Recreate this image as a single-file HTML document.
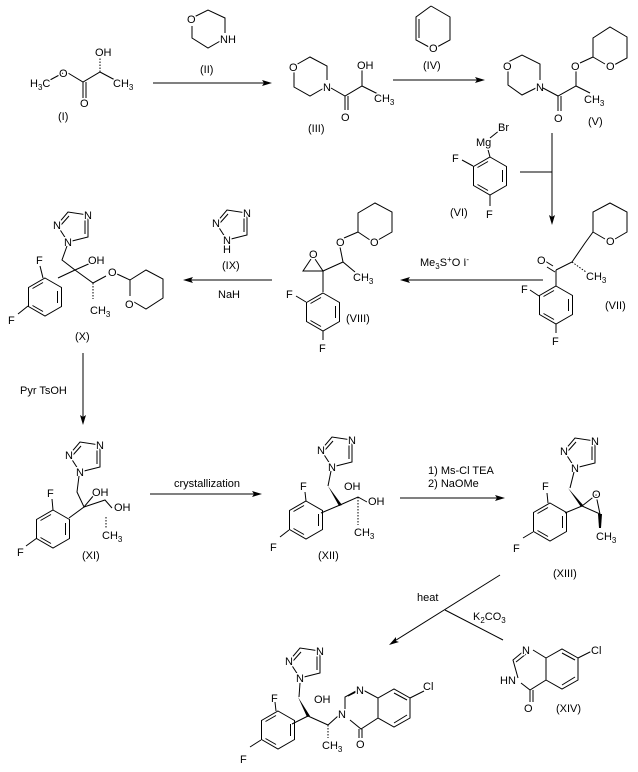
<!DOCTYPE html>
<html><head><meta charset="utf-8"><style>
html,body{margin:0;padding:0;background:#fff;}
svg{display:block}
text{font-family:"Liberation Sans",sans-serif;font-size:11px;fill:#000;paint-order:stroke;stroke:#fff;stroke-width:3px;stroke-linejoin:round}
.s{font-size:8px}
line,polyline,polygon,path{stroke:#000;stroke-width:1;fill:none}
.ah{fill:#000;stroke:none}
</style></head><body>
<svg width="638" height="772" viewBox="0 0 638 772" xmlns="http://www.w3.org/2000/svg">
<defs>
<g id="benz"><polygon points="0,-19 16.5,-9.5 16.5,9.5 0,19 -16.5,9.5 -16.5,-9.5"/><line x1="12.5" y1="-6" x2="12.5" y2="6"/><line x1="-2" y1="14.5" x2="-12.5" y2="8.5"/><line x1="-2" y1="-14.5" x2="-12.5" y2="-8.5"/></g>
<g id="tri"><polygon points="0,0 -11,-17 0,-30 20,-27 20,-5"/><line x1="-7" y1="-17" x2="1" y2="-26"/><line x1="17" y1="-24" x2="17" y2="-8"/>
<text x="-4" y="4">N</text><text x="-15" y="-13">N</text><text x="16" y="-23">N</text></g>
</defs>

<!-- (I) -->
<polyline points="50,80 63,73"/><polyline points="68,73 83,82 100,72 115,80"/>
<line x1="83" y1="82" x2="83" y2="98"/><line x1="86" y1="82" x2="86" y2="98"/>
<line x1="100" y1="72" x2="100" y2="58" stroke-dasharray="1.5,1.5"/>
<text x="30" y="87">H<tspan class="s" dy="3">3</tspan><tspan dy="-3">C</tspan></text>
<text x="59" y="77">O</text><text x="80" y="107">O</text><text x="95" y="56">OH</text>
<text x="113" y="87">CH<tspan class="s" dy="3">3</tspan></text>
<text x="58" y="120">(I)</text>
<line x1="153" y1="83" x2="268" y2="83"/><polygon class="ah" points="272,83 262,80 264,83 262,86"/>
<!-- (II) -->
<polyline points="192,18 208,10 225,18 225,33"/><polyline points="192,26 192,38 208,48 222,40"/>
<text x="187" y="23">O</text><text x="220" y="43">NH</text><text x="200" y="73">(II)</text>

<!-- (III) -->
<polyline points="294,66 310,57 327,66 327,80"/><polyline points="294,72 294,87 310,96 324,88"/>
<text x="289" y="71">O</text><text x="323" y="91">N</text>
<polyline points="331,88 345,96 362,86 378,94"/>
<line x1="345" y1="96" x2="345" y2="110"/><line x1="348" y1="96" x2="348" y2="110"/>
<line x1="362" y1="86" x2="362" y2="70"/>
<text x="341" y="121">O</text><text x="357" y="69">OH</text><text x="374" y="102">CH<tspan class="s" dy="3">3</tspan></text>
<text x="308" y="132">(III)</text>
<line x1="393" y1="80" x2="481" y2="80"/><polygon class="ah" points="485,80 475,77 477,80 475,83"/>
<!-- (IV) -->
<polyline points="431,6 450,17 450,40 437,47"/><polyline points="429,47 416,40 416,17 431,6"/><line x1="419" y1="19" x2="419" y2="38"/>
<text x="429" y="52">O</text><text x="423" y="69">(IV)</text>

<!-- (V) -->
<polyline points="508,62 522,55 540,64 540,80"/><polyline points="508,70 508,85 522,95 536,88"/>
<text x="503" y="70">O</text><text x="536" y="91">N</text>
<polyline points="543,88 558,96 576,86 590,93"/>
<line x1="558" y1="96" x2="558" y2="111"/><line x1="561" y1="96" x2="561" y2="111"/>
<line x1="576" y1="86" x2="576" y2="71"/><line x1="580" y1="63" x2="593" y2="57"/>
<polyline points="593,57 593,38 610,27 627,37 627,58 614,65"/><line x1="593" y1="57" x2="605" y2="64"/>
<text x="571" y="70">O</text><text x="606" y="70">O</text><text x="554" y="122">O</text>
<text x="584" y="103">CH<tspan class="s" dy="3">3</tspan></text><text x="588" y="125">(V)</text>
<line x1="552" y1="133" x2="552" y2="220"/><polygon class="ah" points="552,225 549,215 552,217 555,215"/>
<line x1="520" y1="172" x2="552" y2="172"/>
<!-- (VI) -->
<use href="#benz" transform="translate(490,176)"/>
<line x1="490" y1="157" x2="487" y2="146"/><line x1="490" y1="138" x2="500" y2="130"/>
<text x="476" y="146">Mg</text><text x="498" y="131">Br</text>
<line x1="473" y1="166" x2="462" y2="160"/><text x="452" y="162">F</text>
<line x1="490" y1="195" x2="490" y2="206"/><text x="486" y="218">F</text>
<text x="450" y="216">(VI)</text>

<!-- (VII) -->
<polyline points="556,270 572,262 585,243 593,232"/><line x1="553" y1="266" x2="545" y2="261"/><line x1="555" y1="272" x2="547" y2="267"/>
<line x1="572" y1="262" x2="586" y2="272" stroke-dasharray="1.5,1.5"/>
<polyline points="593,232 593,212 610,203 627,212 627,232 615,239"/><line x1="593" y1="232" x2="605" y2="239"/>
<text x="606" y="245">O</text><text x="537" y="264">O</text>
<text x="586" y="280">CH<tspan class="s" dy="3">3</tspan></text>
<line x1="556" y1="270" x2="556" y2="286"/>
<use href="#benz" transform="translate(556,305)"/>
<line x1="539" y1="296" x2="530" y2="290"/><text x="521" y="293">F</text>
<line x1="556" y1="324" x2="556" y2="333"/><text x="552" y="345">F</text>
<text x="605" y="309">(VII)</text>
<line x1="543" y1="280" x2="405" y2="280"/><polygon class="ah" points="400,280 410,277 408,280 410,283"/>
<text x="420" y="266">Me<tspan class="s" dy="3">3</tspan><tspan dy="-3">S</tspan><tspan class="s" dy="-4">+</tspan><tspan dy="4">O I</tspan><tspan class="s" dy="-4">-</tspan></text>

<!-- (VIII) -->
<polygon points="303,271 323,271 313,256"/><text x="309" y="258">O</text>
<polyline points="323,271 343,262 355,272"/><line x1="343" y1="262" x2="340" y2="247"/>
<line x1="344" y1="238" x2="358" y2="232"/>
<polyline points="358,232 358,213 375,203 392,212 392,232 378,240"/><line x1="358" y1="232" x2="370" y2="240"/>
<text x="336" y="246">O</text><text x="370" y="246">O</text><text x="353" y="281">CH<tspan class="s" dy="3">3</tspan></text>
<line x1="323" y1="271" x2="323" y2="292"/>
<use href="#benz" transform="translate(323,312)"/>
<line x1="306" y1="302" x2="296" y2="296"/><text x="286" y="298">F</text>
<line x1="323" y1="331" x2="323" y2="340"/><text x="319" y="352">F</text>
<text x="346" y="322">(VIII)</text>
<line x1="272" y1="280" x2="187" y2="280"/><polygon class="ah" points="183,280 193,277 191,280 193,283"/>
<!-- (IX) -->
<use href="#tri" transform="translate(227,240)"/>
<text x="223" y="253">H</text>
<text x="222" y="269">(IX)</text><text x="218" y="298">NaH</text>

<!-- (X) -->
<use href="#tri" transform="translate(68,242)"/>
<polyline points="67,246 62,260 75,270 93,262"/>
<polyline points="75,270 93,283 106,276"/>
<line x1="93" y1="283" x2="93" y2="299" stroke-dasharray="1.5,1.5"/>
<line x1="117" y1="274" x2="130" y2="280"/>
<polyline points="130,280 146,270 163,279 163,298 146,309 134,302"/><line x1="130" y1="280" x2="130" y2="296"/>
<text x="88" y="264">OH</text><text x="108" y="276">O</text><text x="125" y="308">O</text>
<text x="90" y="314">CH<tspan class="s" dy="3">3</tspan></text>
<line x1="75" y1="270" x2="58" y2="278"/>
<use href="#benz" transform="translate(45,297)" />
<line x1="43" y1="278" x2="40" y2="266"/><text x="36" y="264">F</text>
<line x1="28" y1="306" x2="18" y2="314"/><text x="8" y="324">F</text>
<text x="75" y="340">(X)</text>
<line x1="83" y1="353" x2="83" y2="420"/><polygon class="ah" points="83,425 80,415 83,417 86,415"/>
<text x="20" y="394">Pyr TsOH</text>

<!-- (XI) -->
<use href="#tri" transform="translate(80,472)"/>
<polyline points="79,476 77,492 84,507 94,495"/>
<polyline points="84,507 105,500 112,508"/>
<line x1="106" y1="517" x2="106" y2="528" stroke-dasharray="1.5,1.5"/>
<text x="92" y="496">OH</text><text x="114" y="511">OH</text>
<text x="102" y="539">CH<tspan class="s" dy="3">3</tspan></text>
<line x1="84" y1="507" x2="69" y2="518"/>
<use href="#benz" transform="translate(53,529)"/>
<line x1="53" y1="510" x2="52" y2="499"/><text x="47" y="497">F</text>
<line x1="37" y1="538" x2="26" y2="546"/><text x="17" y="556">F</text>
<text x="82" y="559">(XI)</text>
<line x1="150" y1="494" x2="258" y2="494"/><polygon class="ah" points="262,494 252,491 254,494 252,497"/>
<text x="174" y="487">crystallization</text>

<!-- (XII) -->
<use href="#tri" transform="translate(332,467)"/>
<line x1="331" y1="471" x2="328" y2="486"/><polygon class="ah" points="328,486 342,505 339,506"/>
<polyline points="340,505 358,497 367,502"/>
<line x1="358" y1="497" x2="358" y2="525" stroke-dasharray="1.5,1.5"/>
<text x="344" y="490">OH</text><text x="368" y="505">OH</text>
<text x="354" y="536">CH<tspan class="s" dy="3">3</tspan></text>
<line x1="340" y1="505" x2="321" y2="513"/>
<use href="#benz" transform="translate(306,520)"/>
<line x1="306" y1="501" x2="305" y2="492"/><text x="300" y="490">F</text>
<line x1="289" y1="530" x2="280" y2="537"/><text x="270" y="551">F</text>
<text x="318" y="559">(XII)</text>
<line x1="400" y1="498" x2="501" y2="498"/><polygon class="ah" points="505,498 495,495 497,498 495,501"/>
<text x="428" y="474">1) Ms-Cl  TEA</text><text x="428" y="487">2) NaOMe</text>

<!-- (XIII) -->
<use href="#tri" transform="translate(575,468)"/>
<line x1="574" y1="472" x2="570" y2="488"/><polygon class="ah" points="568,488 583,505 581,507"/>
<polygon points="582,506 596,495 600,514"/>
<text x="592" y="498">O</text>
<polygon class="ah" points="598,514 602,514 601,528 599,528"/>
<text x="596" y="540">CH<tspan class="s" dy="3">3</tspan></text>
<line x1="582" y1="506" x2="565" y2="513"/>
<use href="#benz" transform="translate(550,522)"/>
<line x1="548" y1="503" x2="547" y2="493"/><text x="542" y="490">F</text>
<line x1="533" y1="532" x2="523" y2="538"/><text x="513" y="552">F</text>
<text x="553" y="577">(XIII)</text>
<line x1="500" y1="575" x2="393" y2="642"/><polygon class="ah" points="389,645 396,637 396,641 399,642"/>
<line x1="445" y1="610" x2="503" y2="640"/>
<text x="417" y="601">heat</text>
<text x="473" y="620">K<tspan class="s" dy="3">2</tspan><tspan dy="-3">CO</tspan><tspan class="s" dy="3">3</tspan></text>

<!-- (XIV) -->
<polyline points="518,678 513,660 525,650"/><line x1="516" y1="662" x2="526" y2="654"/>
<polyline points="533,650 546,658 546,680 530,690 521,683"/>
<line x1="530" y1="690" x2="530" y2="702"/><line x1="533" y1="690" x2="533" y2="702"/>
<polygon points="546,658 562,649 578,658 578,680 562,689 546,680"/>
<line x1="562" y1="653" x2="575" y2="660"/><line x1="575" y1="677" x2="562" y2="685"/>
<line x1="578" y1="658" x2="592" y2="651"/>
<text x="522" y="654">N</text><text x="500" y="684">HN</text><text x="524" y="712">O</text>
<text x="591" y="654">Cl</text><text x="556" y="712">(XIV)</text>

<!-- final product -->
<use href="#tri" transform="translate(300,678)"/>
<line x1="300" y1="683" x2="299" y2="697"/><polygon class="ah" points="298,697 310,716 307,717"/>
<polyline points="308,716 328,725 338,716"/>
<line x1="328" y1="725" x2="328" y2="738" stroke-dasharray="1.5,1.5"/>
<text x="314" y="703">OH</text><text x="338" y="718">N</text>
<text x="322" y="749">CH<tspan class="s" dy="3">3</tspan></text>
<polyline points="345,709 345,697 356,691"/><line x1="348" y1="696" x2="356" y2="692"/>
<polyline points="363,690 378,698 378,718 361,729 350,720"/>
<line x1="359" y1="729" x2="359" y2="738"/><line x1="362" y1="729" x2="362" y2="738"/>
<polygon points="378,698 394,689 410,698 410,718 394,727 378,718"/>
<line x1="394" y1="693" x2="407" y2="700"/><line x1="407" y1="715" x2="394" y2="723"/>
<line x1="410" y1="698" x2="424" y2="691"/>
<text x="356" y="694">N</text><text x="356" y="748">O</text><text x="423" y="690">Cl</text>
<line x1="308" y1="716" x2="292" y2="724"/>
<use href="#benz" transform="translate(278,730)"/>
<line x1="276" y1="711" x2="275" y2="702"/><text x="271" y="702">F</text>
<line x1="261" y1="740" x2="250" y2="747"/><text x="240" y="763">F</text>
</svg>
</body></html>
